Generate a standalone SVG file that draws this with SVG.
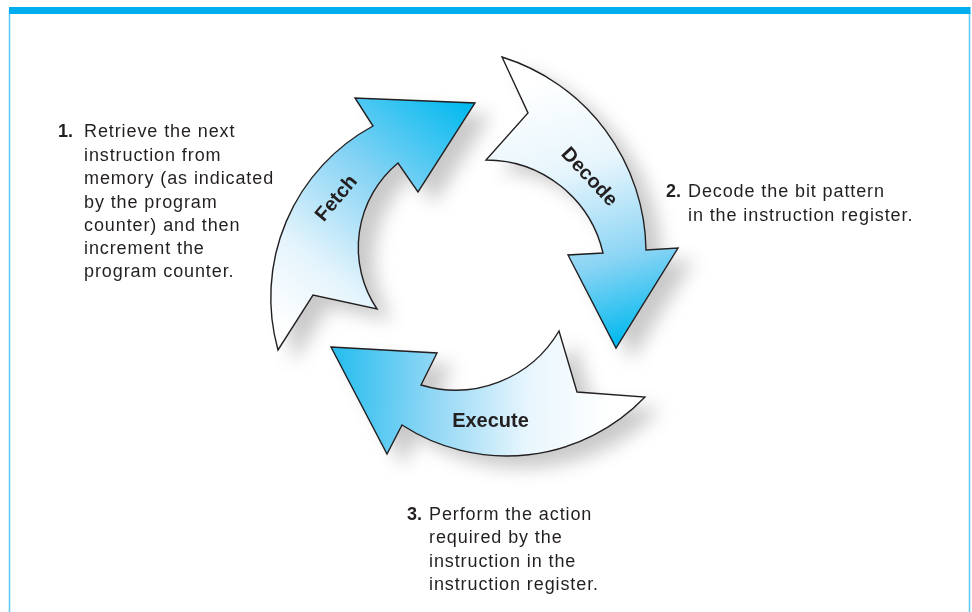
<svg xmlns="http://www.w3.org/2000/svg" xmlns:xlink="http://www.w3.org/1999/xlink" width="972" height="612" viewBox="0 0 972 612">
  <style>
    .body { font-family: "Liberation Sans", Arial, sans-serif; font-size: 18px; letter-spacing: 0.9px; fill: #231f20; }
    .num { font-family: "Liberation Sans", Arial, sans-serif; font-size: 18px; font-weight: bold; fill: #231f20; }
    .label { font-family: "Liberation Sans", Arial, sans-serif; font-size: 20px; font-weight: bold; fill: #231f20; text-anchor: middle; }
    .arrow { stroke: #231f20; stroke-width: 1.4; stroke-linejoin: miter; }
  </style>
  <defs>
    <filter id="blur" filterUnits="userSpaceOnUse" x="200" y="20" width="580" height="520">
      <feGaussianBlur stdDeviation="9"/>
    </filter>
    <linearGradient id="gFetch" gradientUnits="userSpaceOnUse" x1="472" y1="104" x2="290" y2="335">
      <stop offset="0" stop-color="#00b9ef"/>
      <stop offset="0.4" stop-color="#86d3f4"/>
      <stop offset="0.75" stop-color="#e4f4fc"/>
      <stop offset="1" stop-color="#ffffff"/>
    </linearGradient>
    <linearGradient id="gDecode" gradientUnits="userSpaceOnUse" x1="540" y1="80" x2="618" y2="345">
      <stop offset="0" stop-color="#ffffff"/>
      <stop offset="0.35" stop-color="#e6f5fc"/>
      <stop offset="0.7" stop-color="#8ad4f4"/>
      <stop offset="1" stop-color="#00b9ef"/>
    </linearGradient>
    <linearGradient id="gExecute" gradientUnits="userSpaceOnUse" x1="340" y1="390" x2="610" y2="400">
      <stop offset="0" stop-color="#2ebfef"/>
      <stop offset="0.35" stop-color="#92d7f5"/>
      <stop offset="0.7" stop-color="#e8f6fd"/>
      <stop offset="1" stop-color="#ffffff"/>
    </linearGradient>
    <path id="pFetch" d="M373,126 A195,195 0 0 0 278,350 L313,295 L377,309 A110,110 0 0 1 398,163 L418,192 L475,103 L355,98 Z"/>
    <path id="pDecode" d="M502,57 A205,205 0 0 1 646,250 L678,248 L616,348 L568,255 L603,253 A120,120 0 0 0 486,160 L528,113 Z"/>
    <path id="pExecute" d="M331,347 L437,353 L421,385 A120,120 0 0 0 559,331 L577,392 L645,397 A192,192 0 0 1 402,425 L387,454 Z"/>
  </defs>

  <g id="frame">
    <rect x="0" y="0" width="972" height="612" fill="#ffffff"/>
    <line x1="9.5" y1="10" x2="9.5" y2="612" stroke="#5bc8f0" stroke-width="1.5"/>
    <line x1="969.5" y1="10" x2="969.5" y2="612" stroke="#5bc8f0" stroke-width="1.5"/>
    <rect x="9" y="7" width="961.5" height="7" fill="#00aeef"/>
  </g>

  <g id="shadows" filter="url(#blur)" opacity="0.42" fill="#808080">
    <use xlink:href="#pFetch" transform="translate(16,12)"/>
    <use xlink:href="#pDecode" transform="translate(16,12)"/>
    <use xlink:href="#pExecute" transform="translate(16,12)"/>
  </g>

  <g id="connectors">
    <g id="fetch">
      <use xlink:href="#pFetch" class="arrow" fill="url(#gFetch)"/>
      <text class="label" transform="translate(341,202) rotate(-50)">Fetch</text>
    </g>
    <g id="decode">
      <use xlink:href="#pDecode" class="arrow" fill="url(#gDecode)"/>
      <text class="label" transform="translate(585,181) rotate(47)">Decode</text>
    </g>
    <g id="execute">
      <use xlink:href="#pExecute" class="arrow" fill="url(#gExecute)"/>
      <text class="label" x="490.5" y="427">Execute</text>
    </g>
  </g>

  <g id="note1">
    <text class="num" x="58" y="137">1.</text>
    <text class="body" x="84" y="137">Retrieve the next</text>
    <text class="body" x="84" y="160.5">instruction from</text>
    <text class="body" x="84" y="184">memory (as indicated</text>
    <text class="body" x="84" y="207.5">by the program</text>
    <text class="body" x="84" y="230.5">counter) and then</text>
    <text class="body" x="84" y="253.5">increment the</text>
    <text class="body" x="84" y="277">program counter.</text>
  </g>

  <g id="note2">
    <text class="num" x="666" y="197">2.</text>
    <text class="body" x="688" y="197">Decode the bit pattern</text>
    <text class="body" x="688" y="220.5">in the instruction register.</text>
  </g>

  <g id="note3">
    <text class="num" x="407" y="519.5">3.</text>
    <text class="body" x="429" y="519.5">Perform the action</text>
    <text class="body" x="429" y="543">required by the</text>
    <text class="body" x="429" y="566.5">instruction in the</text>
    <text class="body" x="429" y="590">instruction register.</text>
  </g>
</svg>
